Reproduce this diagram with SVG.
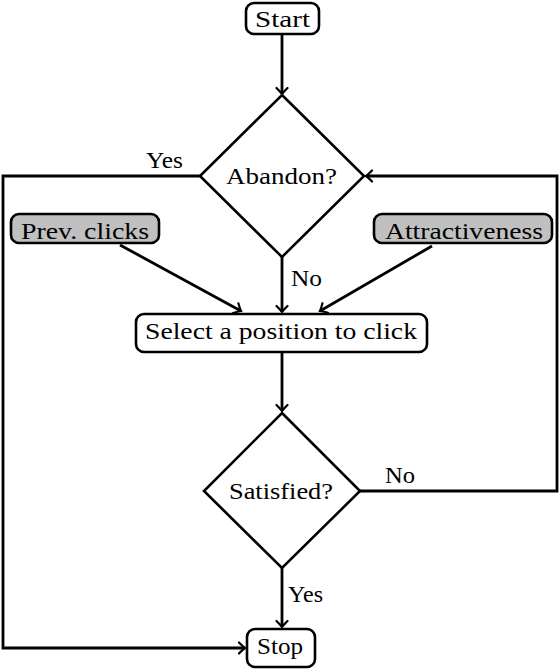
<svg xmlns="http://www.w3.org/2000/svg" width="560" height="670" viewBox="0 0 560 670">
<style>
.n{fill:#fff;stroke:#000;stroke-width:2.6}
.g{fill:#c0c0c0;stroke:#000;stroke-width:2.6}
.t{font-family:"Liberation Serif","DejaVu Serif",serif;font-size:23px;fill:#000}
.c{fill:none;stroke:#000;stroke-width:2.8}
</style>
<defs>
<marker id="a" markerUnits="userSpaceOnUse" viewBox="-8 -7 10 14" markerWidth="10" markerHeight="14" refX="0" refY="0" orient="auto">
<path d="M -6 -5.5 Q -1.5 -1 0 0 Q -1.5 1 -6 5.5" fill="none" stroke="#000" stroke-width="2.2" stroke-linecap="round"/>
</marker>
</defs>
<rect width="560" height="670" fill="#fff"/>
<g id="connectors">
<path class="c" d="M282 35 V94" marker-end="url(#a)"/>
<path class="c" d="M200 176 H3 V648 H245" marker-end="url(#a)"/>
<path class="c" d="M282 257 V312" marker-end="url(#a)"/>
<path class="c" d="M120 245 L241 311" marker-end="url(#a)"/>
<path class="c" d="M432 246 L320 311" marker-end="url(#a)"/>
<path class="c" d="M282 353 V411" marker-end="url(#a)"/>
<path class="c" d="M360 491 H557 V176 H366" marker-end="url(#a)"/>
<path class="c" d="M282 567 V627" marker-end="url(#a)"/>
<text class="t" x="146" y="168" textLength="37" lengthAdjust="spacingAndGlyphs">Yes</text>
<text class="t" x="291" y="286" textLength="31" lengthAdjust="spacingAndGlyphs">No</text>
<text class="t" x="385" y="483" textLength="30" lengthAdjust="spacingAndGlyphs">No</text>
<text class="t" x="288" y="602" textLength="35" lengthAdjust="spacingAndGlyphs">Yes</text>
</g>
<g id="start">
<rect class="n" x="246" y="3" width="73" height="31" rx="8"/>
<text class="t" x="255" y="27" textLength="55" lengthAdjust="spacingAndGlyphs">Start</text>
</g>
<g id="abandon">
<polygon class="n" points="282,95 364,176 282,257 200,176"/>
<text class="t" x="226" y="184" textLength="111" lengthAdjust="spacingAndGlyphs">Abandon?</text>
</g>
<g id="prev">
<rect class="g" x="11" y="214" width="148" height="29" rx="8"/>
<text class="t" x="21" y="239" textLength="128" lengthAdjust="spacingAndGlyphs">Prev. clicks</text>
</g>
<g id="attr">
<rect class="g" x="374" y="214" width="178" height="29" rx="8"/>
<text class="t" x="385" y="239" textLength="158" lengthAdjust="spacingAndGlyphs">Attractiveness</text>
</g>
<g id="select">
<rect class="n" x="136" y="314" width="291" height="38" rx="8"/>
<text class="t" x="145" y="339" textLength="272" lengthAdjust="spacingAndGlyphs">Select a position to click</text>
</g>
<g id="satisfied">
<polygon class="n" points="282,413 360,491 282,568 204,491"/>
<text class="t" x="229" y="499" textLength="104" lengthAdjust="spacingAndGlyphs">Satisfied?</text>
</g>
<g id="stop">
<rect class="n" x="247" y="629" width="68" height="38" rx="8"/>
<text class="t" x="257" y="654" textLength="46" lengthAdjust="spacingAndGlyphs">Stop</text>
</g>
</svg>
